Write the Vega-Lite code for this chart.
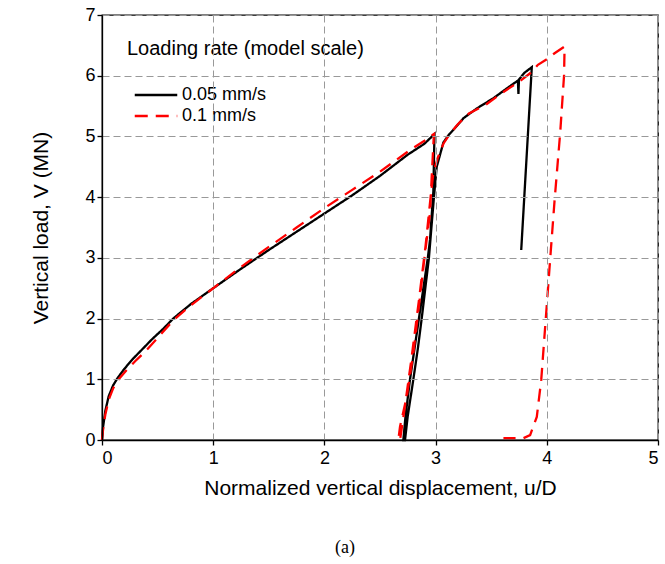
{
  "$schema": "https://vega.github.io/schema/vega-lite/v6.json",
  "width": 556,
  "height": 425,
  "autosize": "none",
  "padding": {"left": 102, "top": 15, "right": 7, "bottom": 124},
  "background": "white",
  "title": {"text": "(a)", "orient": "bottom", "font": "Liberation Serif", "fontSize": 18, "fontWeight": "normal", "color": "#000", "offset": 41, "dx": -35},
  "data": {"values": [
    {"rate": "0.05 mm/s", "i": 1, "x": 0, "y": 0},
    {"rate": "0.05 mm/s", "i": 2, "x": 0.01, "y": 0.22},
    {"rate": "0.05 mm/s", "i": 3, "x": 0.03, "y": 0.48},
    {"rate": "0.05 mm/s", "i": 4, "x": 0.06, "y": 0.72},
    {"rate": "0.05 mm/s", "i": 5, "x": 0.1, "y": 0.9},
    {"rate": "0.05 mm/s", "i": 6, "x": 0.14, "y": 1.02},
    {"rate": "0.05 mm/s", "i": 7, "x": 0.2, "y": 1.17},
    {"rate": "0.05 mm/s", "i": 8, "x": 0.28, "y": 1.34},
    {"rate": "0.05 mm/s", "i": 9, "x": 0.36, "y": 1.49},
    {"rate": "0.05 mm/s", "i": 10, "x": 0.45, "y": 1.66},
    {"rate": "0.05 mm/s", "i": 11, "x": 0.55, "y": 1.83},
    {"rate": "0.05 mm/s", "i": 12, "x": 0.64, "y": 2.0},
    {"rate": "0.05 mm/s", "i": 13, "x": 0.8, "y": 2.24},
    {"rate": "0.05 mm/s", "i": 14, "x": 1.0, "y": 2.5},
    {"rate": "0.05 mm/s", "i": 15, "x": 1.25, "y": 2.82},
    {"rate": "0.05 mm/s", "i": 16, "x": 1.5, "y": 3.13},
    {"rate": "0.05 mm/s", "i": 17, "x": 1.75, "y": 3.43},
    {"rate": "0.05 mm/s", "i": 18, "x": 2.0, "y": 3.73},
    {"rate": "0.05 mm/s", "i": 19, "x": 2.25, "y": 4.03},
    {"rate": "0.05 mm/s", "i": 20, "x": 2.5, "y": 4.35},
    {"rate": "0.05 mm/s", "i": 21, "x": 2.75, "y": 4.7},
    {"rate": "0.05 mm/s", "i": 22, "x": 2.9, "y": 4.88},
    {"rate": "0.05 mm/s", "i": 23, "x": 2.99, "y": 5.04},
    {"rate": "0.05 mm/s", "i": 24, "x": 2.985, "y": 4.6},
    {"rate": "0.05 mm/s", "i": 25, "x": 2.98, "y": 4.1},
    {"rate": "0.05 mm/s", "i": 26, "x": 2.95, "y": 3.3},
    {"rate": "0.05 mm/s", "i": 27, "x": 2.93, "y": 3.0},
    {"rate": "0.05 mm/s", "i": 28, "x": 2.85, "y": 2.0},
    {"rate": "0.05 mm/s", "i": 29, "x": 2.77, "y": 1.0},
    {"rate": "0.05 mm/s", "i": 30, "x": 2.73, "y": 0.4},
    {"rate": "0.05 mm/s", "i": 31, "x": 2.71, "y": 0.0},
    {"rate": "0.05 mm/s", "i": 32, "x": 2.725, "y": 0.0},
    {"rate": "0.05 mm/s", "i": 33, "x": 2.75, "y": 0.4},
    {"rate": "0.05 mm/s", "i": 34, "x": 2.8, "y": 1.0},
    {"rate": "0.05 mm/s", "i": 35, "x": 2.84, "y": 1.5},
    {"rate": "0.05 mm/s", "i": 36, "x": 2.875, "y": 2.0},
    {"rate": "0.05 mm/s", "i": 37, "x": 2.94, "y": 3.0},
    {"rate": "0.05 mm/s", "i": 38, "x": 2.985, "y": 4.0},
    {"rate": "0.05 mm/s", "i": 39, "x": 3.01, "y": 4.5},
    {"rate": "0.05 mm/s", "i": 40, "x": 3.04, "y": 4.7},
    {"rate": "0.05 mm/s", "i": 41, "x": 3.07, "y": 4.9},
    {"rate": "0.05 mm/s", "i": 42, "x": 3.12, "y": 5.03},
    {"rate": "0.05 mm/s", "i": 43, "x": 3.17, "y": 5.13},
    {"rate": "0.05 mm/s", "i": 44, "x": 3.25, "y": 5.3},
    {"rate": "0.05 mm/s", "i": 45, "x": 3.37, "y": 5.46},
    {"rate": "0.05 mm/s", "i": 46, "x": 3.52, "y": 5.63},
    {"rate": "0.05 mm/s", "i": 47, "x": 3.64, "y": 5.79},
    {"rate": "0.05 mm/s", "i": 48, "x": 3.74, "y": 5.92},
    {"rate": "0.05 mm/s", "i": 49, "x": 3.745, "y": 5.7},
    {"rate": "0.05 mm/s", "i": 50, "x": 3.75, "y": 5.94},
    {"rate": "0.05 mm/s", "i": 51, "x": 3.8, "y": 6.05},
    {"rate": "0.05 mm/s", "i": 52, "x": 3.865, "y": 6.14},
    {"rate": "0.05 mm/s", "i": 53, "x": 3.77, "y": 3.13},
    {"rate": "0.1 mm/s", "i": 1, "x": 0, "y": 0},
    {"rate": "0.1 mm/s", "i": 2, "x": 0.01, "y": 0.18},
    {"rate": "0.1 mm/s", "i": 3, "x": 0.03, "y": 0.42},
    {"rate": "0.1 mm/s", "i": 4, "x": 0.06, "y": 0.66},
    {"rate": "0.1 mm/s", "i": 5, "x": 0.1, "y": 0.85},
    {"rate": "0.1 mm/s", "i": 6, "x": 0.15, "y": 1.0},
    {"rate": "0.1 mm/s", "i": 7, "x": 0.22, "y": 1.15},
    {"rate": "0.1 mm/s", "i": 8, "x": 0.3, "y": 1.3},
    {"rate": "0.1 mm/s", "i": 9, "x": 0.4, "y": 1.48},
    {"rate": "0.1 mm/s", "i": 10, "x": 0.5, "y": 1.68},
    {"rate": "0.1 mm/s", "i": 11, "x": 0.64, "y": 1.97},
    {"rate": "0.1 mm/s", "i": 12, "x": 0.8, "y": 2.22},
    {"rate": "0.1 mm/s", "i": 13, "x": 1.0, "y": 2.5},
    {"rate": "0.1 mm/s", "i": 14, "x": 1.25, "y": 2.85},
    {"rate": "0.1 mm/s", "i": 15, "x": 1.5, "y": 3.18},
    {"rate": "0.1 mm/s", "i": 16, "x": 1.75, "y": 3.5},
    {"rate": "0.1 mm/s", "i": 17, "x": 2.0, "y": 3.82},
    {"rate": "0.1 mm/s", "i": 18, "x": 2.25, "y": 4.12},
    {"rate": "0.1 mm/s", "i": 19, "x": 2.5, "y": 4.42},
    {"rate": "0.1 mm/s", "i": 20, "x": 2.75, "y": 4.75},
    {"rate": "0.1 mm/s", "i": 21, "x": 2.9, "y": 4.93},
    {"rate": "0.1 mm/s", "i": 22, "x": 2.985, "y": 5.04},
    {"rate": "0.1 mm/s", "i": 23, "x": 2.965, "y": 4.34},
    {"rate": "0.1 mm/s", "i": 24, "x": 2.95, "y": 3.74},
    {"rate": "0.1 mm/s", "i": 25, "x": 2.905, "y": 3.08},
    {"rate": "0.1 mm/s", "i": 26, "x": 2.86, "y": 2.36},
    {"rate": "0.1 mm/s", "i": 27, "x": 2.8, "y": 1.43},
    {"rate": "0.1 mm/s", "i": 28, "x": 2.74, "y": 0.71},
    {"rate": "0.1 mm/s", "i": 29, "x": 2.68, "y": 0.22},
    {"rate": "0.1 mm/s", "i": 30, "x": 2.665, "y": 0.0},
    {"rate": "0.1 mm/s", "i": 31, "x": 2.68, "y": 0.0},
    {"rate": "0.1 mm/s", "i": 32, "x": 2.72, "y": 0.5},
    {"rate": "0.1 mm/s", "i": 33, "x": 2.78, "y": 1.3},
    {"rate": "0.1 mm/s", "i": 34, "x": 2.85, "y": 2.3},
    {"rate": "0.1 mm/s", "i": 35, "x": 2.91, "y": 3.2},
    {"rate": "0.1 mm/s", "i": 36, "x": 2.955, "y": 4.0},
    {"rate": "0.1 mm/s", "i": 37, "x": 2.98, "y": 4.4},
    {"rate": "0.1 mm/s", "i": 38, "x": 3.02, "y": 4.65},
    {"rate": "0.1 mm/s", "i": 39, "x": 3.07, "y": 4.88},
    {"rate": "0.1 mm/s", "i": 40, "x": 3.12, "y": 5.02},
    {"rate": "0.1 mm/s", "i": 41, "x": 3.2, "y": 5.2},
    {"rate": "0.1 mm/s", "i": 42, "x": 3.3, "y": 5.38},
    {"rate": "0.1 mm/s", "i": 43, "x": 3.45, "y": 5.52},
    {"rate": "0.1 mm/s", "i": 44, "x": 3.6, "y": 5.72},
    {"rate": "0.1 mm/s", "i": 45, "x": 3.75, "y": 5.9},
    {"rate": "0.1 mm/s", "i": 46, "x": 3.85, "y": 6.04},
    {"rate": "0.1 mm/s", "i": 47, "x": 3.92, "y": 6.18},
    {"rate": "0.1 mm/s", "i": 48, "x": 4.0, "y": 6.27},
    {"rate": "0.1 mm/s", "i": 49, "x": 4.07, "y": 6.37},
    {"rate": "0.1 mm/s", "i": 50, "x": 4.16, "y": 6.48},
    {"rate": "0.1 mm/s", "i": 51, "x": 4.155, "y": 6.0},
    {"rate": "0.1 mm/s", "i": 52, "x": 4.12, "y": 5.05},
    {"rate": "0.1 mm/s", "i": 53, "x": 4.07, "y": 3.95},
    {"rate": "0.1 mm/s", "i": 54, "x": 4.03, "y": 2.97},
    {"rate": "0.1 mm/s", "i": 55, "x": 3.99, "y": 1.98},
    {"rate": "0.1 mm/s", "i": 56, "x": 3.95, "y": 0.99},
    {"rate": "0.1 mm/s", "i": 57, "x": 3.91, "y": 0.38},
    {"rate": "0.1 mm/s", "i": 58, "x": 3.85, "y": 0.08},
    {"rate": "0.1 mm/s", "i": 59, "x": 3.79, "y": 0.03},
    {"rate": "0.1 mm/s", "i": 60, "x": 3.61, "y": 0.03}
  ]},
  "mark": {"type": "line", "strokeWidth": 2.3},
  "encoding": {
    "x": {
      "field": "x", "type": "quantitative",
      "scale": {"domain": [0, 5], "nice": false, "zero": false},
      "axis": {
        "title": "Normalized vertical displacement, u/D",
        "values": [0, 1, 2, 3, 4, 5],
        "format": "d",
        "grid": true,
        "gridColor": "#999999",
        "gridDash": [7, 4],
        "gridWidth": 1,
        "zindex": 1,
        "tickSize": 5,
        "labelPadding": 4,
        "titlePadding": 10
      }
    },
    "y": {
      "field": "y", "type": "quantitative",
      "scale": {"domain": [0, 7], "nice": false, "zero": false},
      "axis": {
        "title": "Vertical load,  V (MN)",
        "values": [0, 1, 2, 3, 4, 5, 6, 7],
        "format": "d",
        "grid": true,
        "gridColor": "#999999",
        "gridDash": [7, 4],
        "gridWidth": 1,
        "zindex": 1,
        "tickSize": 5,
        "labelPadding": 2,
        "titlePadding": 33
      }
    },
    "color": {
      "field": "rate", "type": "nominal",
      "scale": {"domain": ["0.05 mm/s", "0.1 mm/s"], "range": ["#000000", "#ff0000"]},
      "legend": {"title": "Loading rate (model scale)"}
    },
    "strokeDash": {
      "field": "rate", "type": "nominal",
      "scale": {"domain": ["0.05 mm/s", "0.1 mm/s"], "range": [[1, 0], [13, 8]]},
      "legend": {"title": "Loading rate (model scale)"}
    },
    "order": {"field": "i", "type": "quantitative"}
  },
  "config": {
    "view": {"stroke": "#000", "strokeWidth": 1.3},
    "axis": {
      "labelFont": "Liberation Sans", "labelFontSize": 18, "labelColor": "#000",
      "titleFont": "Liberation Sans", "titleFontSize": 21, "titleFontWeight": "normal", "titleColor": "#000",
      "domainColor": "#000", "domainWidth": 1.3, "tickColor": "#000", "tickWidth": 1.3
    },
    "legend": {
      "orient": "none", "legendX": 25, "legendY": 24, "padding": 0,
      "titleFont": "Liberation Sans", "titleFontSize": 20, "titleFontWeight": "normal", "titleColor": "#000", "titlePadding": 26, "titleLimit": 400,
      "labelFont": "Liberation Sans", "labelFontSize": 18, "labelColor": "#000",
      "symbolType": "M-2.5,0H2.5", "symbolSize": 289, "symbolStrokeWidth": 2.5,
      "symbolOffset": 19, "labelOffset": 16, "rowPadding": 2
    }
  }
}
